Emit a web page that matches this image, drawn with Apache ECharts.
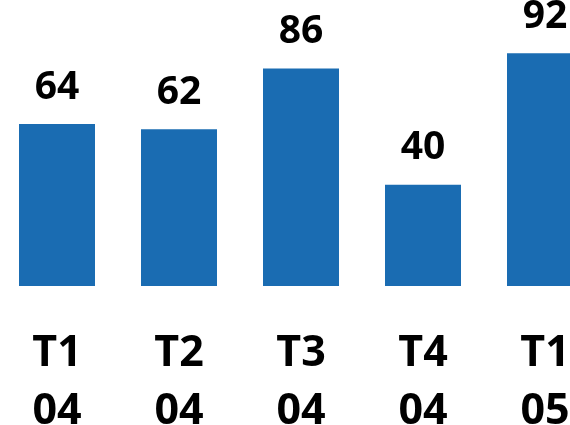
<!DOCTYPE html>
<html>
<head>
<meta charset="utf-8">
<script src="https://cdn.jsdelivr.net/npm/echarts@6/dist/echarts.min.js"></script>
<style>html,body{margin:0;padding:0;background:#fff}#c{width:570px;height:425px}</style>
</head>
<body>
<div id="c"></div>
<script>
const categories = ['T1\n04', 'T2\n04', 'T3\n04', 'T4\n04', 'T1\n05'];
const values = [64, 62, 86, 40, 92];

const chart = echarts.init(document.getElementById('c'), null, {renderer: 'canvas'});
chart.setOption({
  animation: false,
  backgroundColor: '#ffffff',
  grid: {left: -4, width: 610, top: 33, bottom: 139, containLabel: false, outerBoundsMode: 'none'},
  xAxis: {
    type: 'category',
    data: categories,
    axisLine: {show: false},
    axisTick: {show: false},
    axisLabel: {
      interval: 0,
      margin: 39,
      color: '#000',
      fontFamily: 'Open Sans',
      fontWeight: 'bold',
      fontSize: 43,
      lineHeight: 58
    }
  },
  yAxis: {type: 'value', min: 0, max: 100, show: false, splitLine: {show: false}},
  series: [{
    type: 'bar',
    data: values,
    barWidth: 76,
    itemStyle: {color: '#1a6cb2'},
    label: {
      show: true,
      position: 'top',
      distance: 17,
      color: '#000',
      fontFamily: 'Open Sans',
      fontWeight: 'bold',
      fontSize: 39
    }
  }]
});
</script>
</body>
</html>
